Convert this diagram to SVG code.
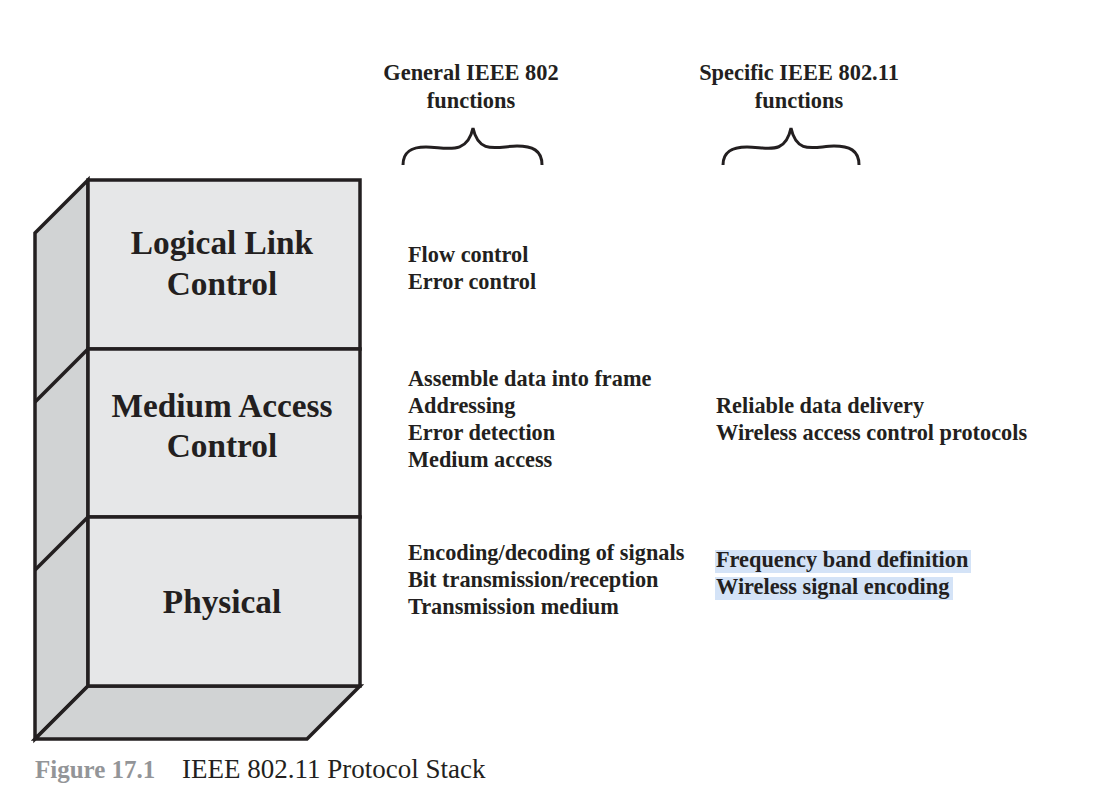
<svg xmlns="http://www.w3.org/2000/svg" width="1094" height="812" viewBox="0 0 1094 812">
<style>
.front{fill:#e6e7e8;stroke:#231f20;stroke-width:3.5;stroke-linejoin:miter}
.side{fill:#d1d3d4;stroke:#231f20;stroke-width:3.5;stroke-linejoin:miter}
.edge{fill:none;stroke:#231f20;stroke-width:3.5}
.brace{fill:none;stroke:#231f20;stroke-width:3;stroke-linecap:butt}
.lbl{font-family:"Liberation Serif","Times New Roman",serif;font-weight:bold;font-size:33.3px;fill:#231f20;text-anchor:middle}
.hdr{font-family:"Liberation Serif","Times New Roman",serif;font-weight:bold;font-size:22.4px;fill:#231f20;text-anchor:middle}
.item{font-family:"Liberation Serif","Times New Roman",serif;font-weight:bold;font-size:22.3px;fill:#231f20}
.hl{fill:#d4e3f7}
</style>
<rect width="1094" height="812" fill="#ffffff"/>
<g id="stack-sides">
<polygon class="side" points="35,233 88,180 88,686 35,739"/>
<polygon class="side" points="35,739 88,686 360,686 307,739"/>
<line class="edge" x1="88" y1="349" x2="35" y2="402"/>
<line class="edge" x1="88" y1="517" x2="35" y2="570"/>
</g>
<g id="llc">
<rect class="front" x="88" y="180" width="272" height="169"/>
<text class="lbl" x="222" y="254">Logical Link</text>
<text class="lbl" x="222" y="295">Control</text>
</g>
<g id="mac">
<rect class="front" x="88" y="349" width="272" height="168"/>
<text class="lbl" x="222" y="417">Medium Access</text>
<text class="lbl" x="222" y="457">Control</text>
</g>
<g id="phy">
<rect class="front" x="88" y="517" width="272" height="169"/>
<text class="lbl" x="222" y="613">Physical</text>
</g>
<g id="connectors">
<path class="brace" d="M403,165 C403,151 412,147 426,147 C446,147 467,156 473,128 C479,156 499,146 517,146 C532,146 542,150 542,165"/>
<path class="brace" d="M723,165 C723,151 733,147 747,147 C767,147 785,156 791,128 C797,156 816,146 834,146 C849,146 859,150 859,165"/>
</g>
<g id="general-header">
<text class="hdr" x="471" y="80">General IEEE 802</text>
<text class="hdr" x="471" y="108">functions</text>
</g>
<g id="specific-header">
<text class="hdr" x="799" y="80">Specific IEEE 802.11</text>
<text class="hdr" x="799" y="108">functions</text>
</g>
<g id="llc-general">
<text class="item" x="408" y="262">Flow control</text>
<text class="item" x="408" y="289">Error control</text>
</g>
<g id="mac-general">
<text class="item" x="408" y="386">Assemble data into frame</text>
<text class="item" x="408" y="413">Addressing</text>
<text class="item" x="408" y="440">Error detection</text>
<text class="item" x="408" y="467">Medium access</text>
</g>
<g id="mac-specific">
<text class="item" x="716" y="413">Reliable data delivery</text>
<text class="item" x="716" y="440">Wireless access control protocols</text>
</g>
<g id="phy-general">
<text class="item" x="408" y="560">Encoding/decoding of signals</text>
<text class="item" x="408" y="587">Bit transmission/reception</text>
<text class="item" x="408" y="614">Transmission medium</text>
</g>
<g id="phy-specific">
<rect class="hl" x="715" y="550" width="256" height="23"/>
<rect class="hl" x="715" y="577" width="238" height="23"/>
<text class="item" x="716" y="567">Frequency band definition</text>
<text class="item" x="716" y="594">Wireless signal encoding</text>
</g>
<g id="caption">
<text x="35" y="778" font-family="'Liberation Serif','Times New Roman',serif" font-weight="bold" font-size="25" fill="#939598">Figure 17.1</text>
<text x="182" y="778" font-family="'Liberation Serif','Times New Roman',serif" font-size="27" fill="#231f20">IEEE 802.11 Protocol Stack</text>
</g>
</svg>
